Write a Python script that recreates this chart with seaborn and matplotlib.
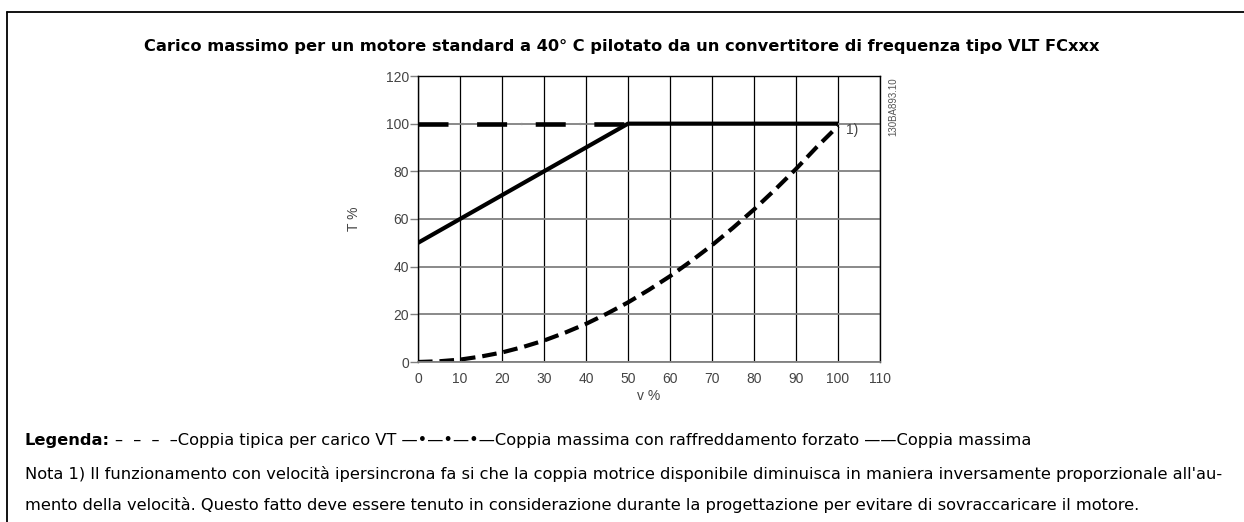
import matplotlib
matplotlib.use("Agg")
import matplotlib.pyplot as plt
import seaborn as sns
from matplotlib.lines import Line2D

# --- data -------------------------------------------------------------
# typical VT load torque (quadratic-looking curve), read every 5 % of speed
velocita_vt = [0, 5, 10, 15, 20, 25, 30, 35, 40, 45, 50,
               55, 60, 65, 70, 75, 80, 85, 90, 95, 100]
coppia_vt = [0, 0.3, 1, 2.3, 4, 6.3, 9, 12.3, 16, 20.3, 25,
             30.3, 36, 42.3, 49, 56.3, 64, 72.3, 81, 90.3, 99]

# maximum torque
velocita_max = [0, 50, 100]
coppia_max = [50, 100, 100]

# maximum torque with forced cooling
velocita_forzato = [0, 50]
coppia_forzato = [100, 100]

x_ticks = list(range(0, 111, 10))
y_ticks = list(range(0, 121, 20))

titolo = ("Carico massimo per un motore standard a 40° C pilotato da un "
          "convertitore di frequenza tipo VLT FCxxx")
etichetta_x = "v %"
etichetta_y = "T %"
nota_punto = "1)"
codice_figura = "130BA893.10"
legenda_titolo = "Legenda:"
legenda_testo = ("–  –  –  –Coppia tipica per carico VT —•—•—•—Coppia massima con "
                 "raffreddamento forzato ——Coppia massima")
nota_righe = [
    "Nota 1) Il funzionamento con velocità ipersincrona fa si che la coppia "
    "motrice disponibile diminuisca in maniera inversamente proporzionale all'au-",
    "mento della velocità. Questo fatto deve essere tenuto in considerazione "
    "durante la progettazione per evitare di sovraccaricare il motore.",
]

# --- style ------------------------------------------------------------
sns.set_theme(style="white")
plt.rcParams["font.family"] = ["Liberation Sans", "DejaVu Sans"]
plt.rcParams["lines.scale_dashes"] = False

W, H = 1244, 522
fig = plt.figure(figsize=(W / 100, H / 100), dpi=100)
fig.patch.set_facecolor("white")


def fx(px):
    return px / W


def fy(py):
    return 1 - py / H


ax = fig.add_axes([fx(418), fy(362), (880 - 418) / W, (362 - 76) / H])
ax.set_facecolor("white")

lw = 3.0
sns.lineplot(x=velocita_vt, y=coppia_vt, ax=ax, color="black", lw=lw,
             linestyle=(0, (10.5, 5.0)), sort=False, estimator=None)
sns.lineplot(x=velocita_max, y=coppia_max, ax=ax, color="black", lw=lw,
             sort=False, estimator=None)
sns.lineplot(x=velocita_forzato, y=coppia_forzato, ax=ax, color="black", lw=3.3,
             linestyle=(0, (21.6, 20.6)), sort=False, estimator=None)
sns.lineplot(x=velocita_forzato, y=coppia_forzato, ax=ax, color="#909090", lw=1.6,
             linestyle=(10.5, (1.1, 41.2)), sort=False, estimator=None)
for ln in ax.lines:
    ln.set_solid_capstyle("butt")
    ln.set_dash_capstyle("butt")

ax.set_xlim(0, 110)
ax.set_ylim(0, 120)
ax.set_xticks(x_ticks)
ax.set_yticks(y_ticks)
ax.set_axisbelow(True)
ax.xaxis.grid(True, color="black", lw=0.9)
ax.yaxis.grid(True, color="#808080", lw=1.3)

for side in ("left", "right", "top"):
    ax.spines[side].set_color("black")
    ax.spines[side].set_linewidth(1.0)
ax.spines["bottom"].set_color("#808080")
ax.spines["bottom"].set_linewidth(1.3)

ax.tick_params(axis="y", left=True, length=5.5, width=1.0, color="#808080",
               pad=1, labelsize=10, labelcolor="#444444")
ax.tick_params(axis="x", bottom=False, length=0, pad=7,
               labelsize=10, labelcolor="#444444")
ax.set_xlabel(etichetta_x, fontsize=10, color="#444444", labelpad=2)
ax.set_ylabel(etichetta_y, fontsize=10, color="#444444", labelpad=18)

ax.text(101.8, 97.3, nota_punto, fontsize=10, color="#444444",
        ha="left", va="center")
ax.text(113.2, 119.5, codice_figura, fontsize=7, color="#555555",
        rotation=90, ha="center", va="top")

# --- surrounding text ---------------------------------------------------
fig.text(0.5, fy(47), titolo, ha="center", va="center", fontsize=11.7,
         fontweight="bold", family="DejaVu Sans", color="black")

body = dict(fontsize=11.7, family="DejaVu Sans", color="black", va="center")
t_leg = fig.text(fx(25), fy(441), legenda_titolo, fontweight="bold", **body)
renderer = fig.canvas.get_renderer()
bb = t_leg.get_window_extent(renderer)
fig.text(fx(bb.x1 + 5), fy(441), legenda_testo, **body)
fig.text(fx(25), fy(474), nota_righe[0], **body)
fig.text(fx(25), fy(505), nota_righe[1], **body)

# cell border (top and left edges)
fig.add_artist(Line2D([fx(7), 1.0], [fy(12), fy(12)], color="black", lw=1.3))
fig.add_artist(Line2D([fx(7), fx(7)], [fy(12), 0.0], color="black", lw=1.3))

fig.savefig("out.png", dpi=100, facecolor="white")
